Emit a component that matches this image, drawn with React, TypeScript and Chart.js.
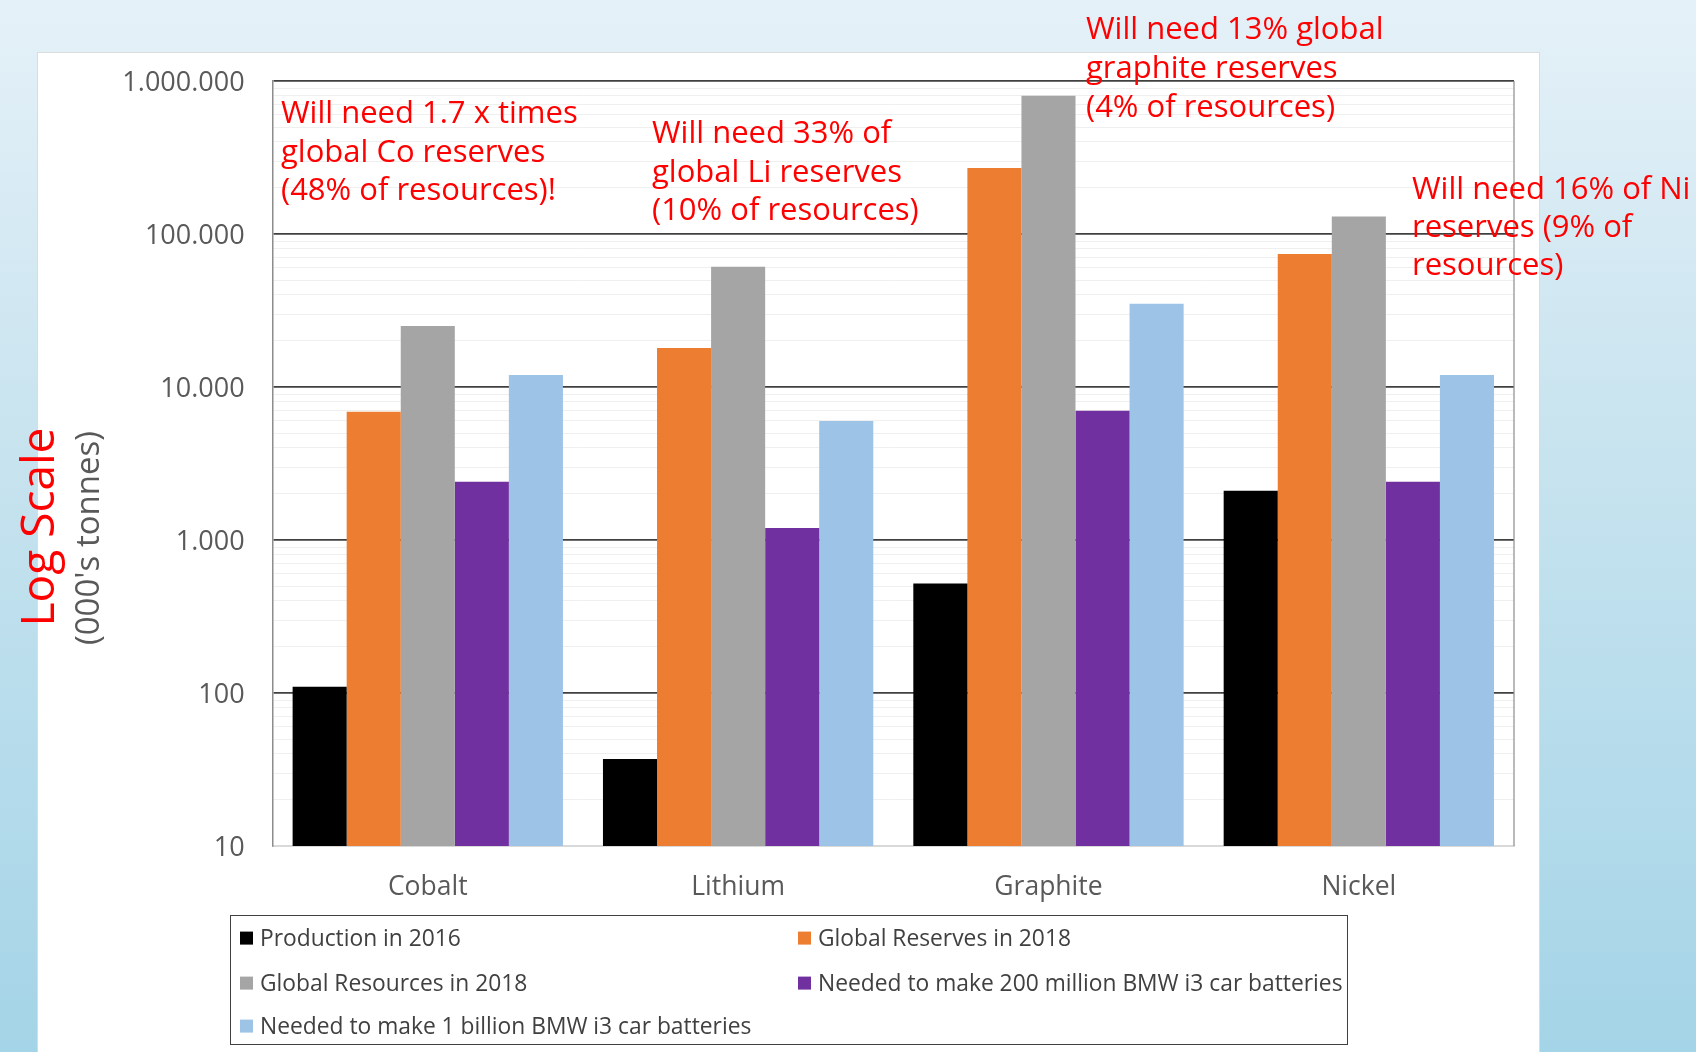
import React, { useEffect, useRef } from "react";
import { Chart, registerables } from "chart.js";

Chart.register(...registerables);

// ---------- data ----------
const categories = ["Cobalt", "Lithium", "Graphite", "Nickel"];
const production2016 = [110, 37, 520, 2100];
const reserves2018 = [6900, 18000, 270000, 74000];
const resources2018 = [25000, 61000, 800000, 130000];
const needed200M = [2400, 1200, 7000, 2400];
const needed1B = [12000, 6000, 35000, 12000];

const seriesNames = [
  "Production in 2016",
  "Global Reserves in 2018",
  "Global Resources in 2018",
  "Needed to make 200 million BMW i3 car batteries",
  "Needed to make 1 billion BMW i3 car batteries",
];
const seriesColors = ["#000000", "#ED7D31", "#A5A5A5", "#7030A0", "#9DC3E6"];
const seriesValues = [production2016, reserves2018, resources2018, needed200M, needed1B];

const majorTicks = [10, 100, 1000, 10000, 100000, 1000000];
const majorTickLabels = ["10", "100", "1.000", "10.000", "100.000", "1.000.000"];
const minorMultipliers = [2, 3, 4, 5, 6, 7, 8, 9];

const noteCobalt = ["Will need 1.7 x times", "global Co reserves", "(48% of resources)!"];
const noteLithium = ["Will need 33% of", "global Li reserves", "(10% of resources)"];
const noteGraphite = ["Will need 13% global", "graphite reserves", "(4% of resources)"];
const noteNickel = ["Will need 16% of Ni", "reserves (9% of", "resources)"];

const yTitleMain = "Log Scale";
const yTitleSub = "(000's tonnes)";

const FONT = "'Open Sans', 'Noto Sans', sans-serif";

const rightBorder = {
  id: "rightBorder",
  beforeDatasetsDraw(chart: any) {
    const { ctx, chartArea } = chart;
    ctx.save();
    ctx.strokeStyle = "#8c8c8c";
    ctx.lineWidth = 1.2;
    ctx.beginPath();
    ctx.moveTo(chartArea.right, chartArea.top);
    ctx.lineTo(chartArea.right, chartArea.bottom);
    ctx.stroke();
    ctx.restore();
  },
};

function Note({ lines, left, top, lh }: { lines: string[]; left: number; top: number; lh: number }) {
  return (
    <div
      style={{
        position: "absolute",
        left,
        top,
        color: "#FF0000",
        fontFamily: FONT,
        fontSize: 31,
        lineHeight: lh + "px",
        whiteSpace: "nowrap",
      }}
    >
      {lines.map((l, i) => (
        <div key={i}>{l}</div>
      ))}
    </div>
  );
}

export default function App() {
  const canvasRef = useRef<HTMLCanvasElement | null>(null);

  useEffect(() => {
    const canvas = canvasRef.current;
    if (!canvas) return;
    const isMajor = (v: number) => majorTicks.includes(v);
    const tickList: number[] = [];
    majorTicks.forEach((m, i) => {
      tickList.push(m);
      if (i < majorTicks.length - 1) minorMultipliers.forEach((k) => tickList.push(m * k));
    });

    const chart = new Chart(canvas, {
      type: "bar",
      data: {
        labels: categories,
        datasets: seriesValues.map((vals, i) => ({
          label: seriesNames[i],
          data: vals,
          backgroundColor: seriesColors[i],
          borderWidth: 0,
          barPercentage: 1,
          categoryPercentage: 0.871,
        })),
      },
      options: {
        responsive: false,
        animation: false,
        events: [],
        layout: { padding: { left: 0, top: 81, right: 182, bottom: 0 } },
        plugins: { legend: { display: false }, tooltip: { enabled: false }, title: { display: false } },
        scales: {
          x: {
            grid: { display: false, drawTicks: false },
            border: { display: true, color: "#d9d9d9", width: 2 },
            ticks: {
              color: "#595959",
              font: { family: FONT, size: 26.5 },
              padding: 26,
            },
            afterFit: (s: any) => {
              s.height = 206;
            },
          },
          y: {
            type: "logarithmic",
            min: 10,
            max: 1000000,
            afterBuildTicks: (s: any) => {
              s.ticks = tickList.map((v) => ({ value: v, major: isMajor(v) }));
            },
            afterFit: (s: any) => {
              s.width = 272.6;
            },
            grid: {
              drawTicks: false,
              color: (c: any) => {
                const v = c.tick?.value;
                if (v === 10) return "rgba(0,0,0,0)";
                return isMajor(v) ? "#404040" : "#efefef";
              },
              lineWidth: (c: any) => (isMajor(c.tick?.value) ? 1.8 : 1),
            },
            border: { display: true, color: "#8c8c8c", width: 1.5 },
            ticks: {
              autoSkip: false,
              color: "#595959",
              font: { family: FONT, size: 27 },
              padding: 28,
              labelOffset: 2,
              callback: (v: any) => {
                const idx = majorTicks.indexOf(Number(v));
                return idx >= 0 ? majorTickLabels[idx] : "";
              },
            },
          },
        },
      },
      plugins: [rightBorder],
    });
    return () => chart.destroy();
  }, []);

  const legendPos = [
    { left: 240, top: 938 },
    { left: 798, top: 938 },
    { left: 240, top: 983 },
    { left: 798, top: 983 },
    { left: 240, top: 1026 },
  ];

  return (
    <div
      style={{
        position: "absolute",
        left: 0,
        top: 0,
        width: 1696,
        height: 1052,
        overflow: "hidden",
        background: "linear-gradient(180deg, #e5f1f8 0%, #c9e4ef 40%, #a4d4e7 100%)",
        fontFamily: FONT,
      }}
    >
      <div
        style={{
          position: "absolute",
          left: 37,
          top: 52,
          width: 1503,
          height: 1010,
          background: "#ffffff",
          border: "1px solid #dcdcdc",
          boxSizing: "border-box",
        }}
      />
      <canvas
        ref={canvasRef}
        width={1696}
        height={1052}
        style={{ position: "absolute", left: 0, top: 0, width: 1696, height: 1052 }}
      />
      {/* y-axis titles */}
      <div
        style={{
          position: "absolute",
          left: 36,
          top: 527,
          transform: "translate(-50%, -50%) rotate(-90deg)",
          color: "#FF0000",
          fontSize: 46,
          whiteSpace: "nowrap",
          lineHeight: 1,
        }}
      >
        {yTitleMain}
      </div>
      <div
        style={{
          position: "absolute",
          left: 86,
          top: 538,
          transform: "translate(-50%, -50%) rotate(-90deg)",
          color: "#595959",
          fontSize: 33,
          whiteSpace: "nowrap",
          lineHeight: 1,
        }}
      >
        {yTitleSub}
      </div>
      {/* annotations */}
      <Note lines={noteCobalt} left={281} top={92} lh={38.5} />
      <Note lines={noteLithium} left={652} top={112} lh={38.5} />
      <Note lines={noteGraphite} left={1086} top={8} lh={39} />
      <Note lines={noteNickel} left={1412} top={168} lh={38} />
      {/* legend */}
      <div
        style={{
          position: "absolute",
          left: 230,
          top: 915,
          width: 1118,
          height: 130,
          border: "1.5px solid #404040",
          boxSizing: "border-box",
        }}
      />
      {seriesNames.map((name, i) => (
        <div
          key={name}
          style={{
            position: "absolute",
            left: legendPos[i].left,
            top: legendPos[i].top,
            transform: "translateY(-50%)",
            display: "flex",
            alignItems: "center",
            whiteSpace: "nowrap",
            color: "#404040",
            fontSize: 22.8,
            lineHeight: 1,
          }}
        >
          <span
            style={{
              display: "inline-block",
              width: 13,
              height: 13,
              background: seriesColors[i],
              marginRight: 7,
            }}
          />
          <span>{name}</span>
        </div>
      ))}
    </div>
  );
}
